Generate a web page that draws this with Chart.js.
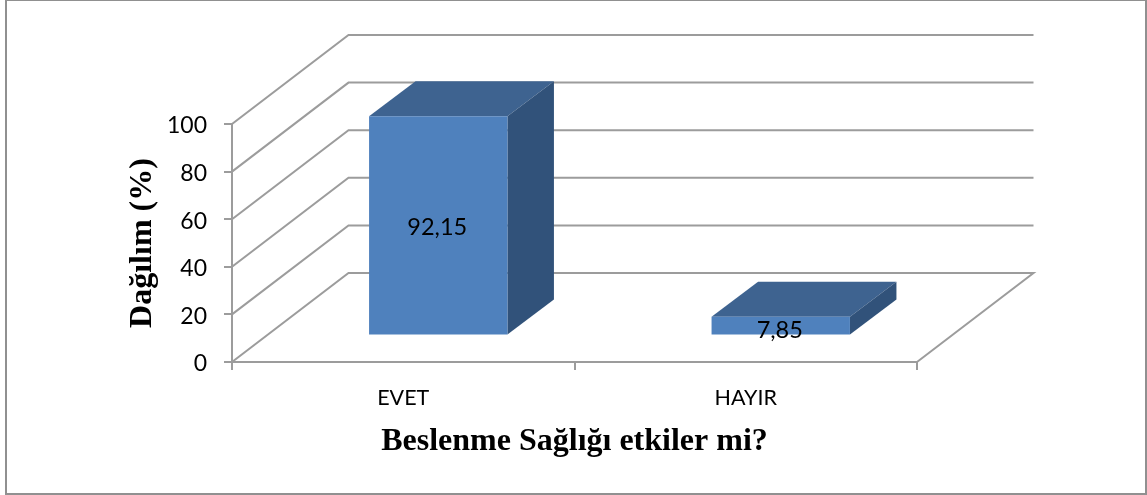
<!DOCTYPE html>
<html><head><meta charset="utf-8">
<script src="https://cdn.jsdelivr.net/npm/chart.js@4"></script>
<style>html,body{margin:0;padding:0;background:#fff}canvas{display:block}</style>
</head><body>
<div style="width:1147px;height:495px"><canvas id="c" width="1147" height="495"></canvas></div>
<script>
const categories = ['EVET', 'HAYIR'];
const values = [92.15, 7.85];
const seriesName = 'Dağılım (%)';
const xTitle = 'Beslenme Sağlığı etkiler mi?';
const yTitle = 'Dağılım (%)';

const GRID = '#9c9c9c';
const FRONT = '#4F81BD', SIDE = '#31527A', TOP = '#3E6390';
const wall = {dx: 116.5, dy: -89};        // depth of the 3D box
const slot = {dx: 35, dy: -26.5};         // bars start this far into the box
const barDepth = {dx: 46.5, dy: -35};     // depth of each bar

function poly(ctx, pts, fill) {
  ctx.beginPath();
  pts.forEach((p, i) => i ? ctx.lineTo(p[0], p[1]) : ctx.moveTo(p[0], p[1]));
  ctx.closePath();
  ctx.fillStyle = fill;
  ctx.fill();
}

const box3d = {
  id: 'box3d',
  beforeDraw(chart) {
    const ctx = chart.ctx;
    ctx.save();
    ctx.fillStyle = '#fff';
    ctx.fillRect(0, 0, chart.width, chart.height);
    ctx.strokeStyle = '#909090';
    ctx.lineWidth = 2;
    ctx.strokeRect(6, 0, 1140, 494);
    ctx.restore();
  },
  beforeDatasetsDraw(chart) {
    const ctx = chart.ctx, y = chart.scales.y, a = chart.chartArea;
    ctx.save();
    ctx.strokeStyle = GRID;
    ctx.lineWidth = 2;
    y.ticks.forEach(t => {
      const py = y.getPixelForValue(t.value);
      ctx.beginPath();
      ctx.moveTo(a.left, py);
      ctx.lineTo(a.left + wall.dx, py + wall.dy);
      ctx.lineTo(a.right + wall.dx, py + wall.dy);
      if (t.value === 0) ctx.lineTo(a.right, py);
      ctx.stroke();
    });
    ctx.restore();
  },
  beforeDatasetDraw(chart, args) {
    const ctx = chart.ctx;
    ctx.save();
    ctx.translate(slot.dx, slot.dy);
    args.meta.data.forEach(el => {
      const l = el.x - el.width / 2, r = el.x + el.width / 2;
      const d = barDepth;
      poly(ctx, [[l, el.y], [r, el.y], [r + d.dx, el.y + d.dy], [l + d.dx, el.y + d.dy]], TOP);
      poly(ctx, [[r, el.y], [r + d.dx, el.y + d.dy], [r + d.dx, el.base + d.dy], [r, el.base]], SIDE);
    });
  },
  afterDatasetDraw(chart, args) {
    const ctx = chart.ctx;
    ctx.fillStyle = '#000';
    ctx.font = '23.5px Lato';
    ctx.textAlign = 'center';
    ctx.textBaseline = 'middle';
    args.meta.data.forEach((el, i) => {
      const text = values[i].toFixed(2).replace('.', ',');
      const tall = el.base - el.y > 40;
      ctx.fillText(text, el.x - 1, tall ? (el.y + el.base) / 2 + 2 : el.base - 4.5);
    });
    ctx.restore();
  }
};

new Chart(document.getElementById('c'), {
  type: 'bar',
  data: {
    labels: categories,
    datasets: [{
      label: seriesName,
      data: values,
      backgroundColor: FRONT,
      borderWidth: 0,
      categoryPercentage: 1,
      barPercentage: 0.404,
      clip: false
    }]
  },
  plugins: [box3d],
  options: {
    responsive: false,
    animation: false,
    layout: {padding: {left: 124, right: 230, top: 124, bottom: 0}},
    plugins: {legend: {display: false}, tooltip: {enabled: false}, title: {display: false}},
    scales: {
      x: {
        afterFit(s) { s.height = 133; },
        grid: {drawOnChartArea: false, color: GRID, lineWidth: 2, tickLength: 8, tickColor: GRID},
        border: {color: GRID, width: 2},
        ticks: {color: '#000', font: {family: 'Lato', size: 21.5}, padding: 15, maxRotation: 0},
        title: {display: true, text: xTitle, color: '#000', padding: {top: 0, bottom: 34},
                font: {family: 'Liberation Serif', size: 32, weight: 'bold'}}
      },
      y: {
        min: 0, max: 100,
        afterFit(s) { s.width = 108; },
        grid: {drawOnChartArea: false, color: GRID, lineWidth: 2, tickLength: 8, tickColor: GRID},
        border: {color: GRID, width: 2},
        ticks: {stepSize: 20, color: '#000', font: {family: 'Lato', size: 23}, padding: 17, labelOffset: 2},
        title: {display: true, text: yTitle, color: '#000', padding: {top: 0, bottom: 0},
                font: {family: 'Liberation Serif', size: 32, weight: 'bold'}}
      }
    }
  }
});
</script>
</body></html>
